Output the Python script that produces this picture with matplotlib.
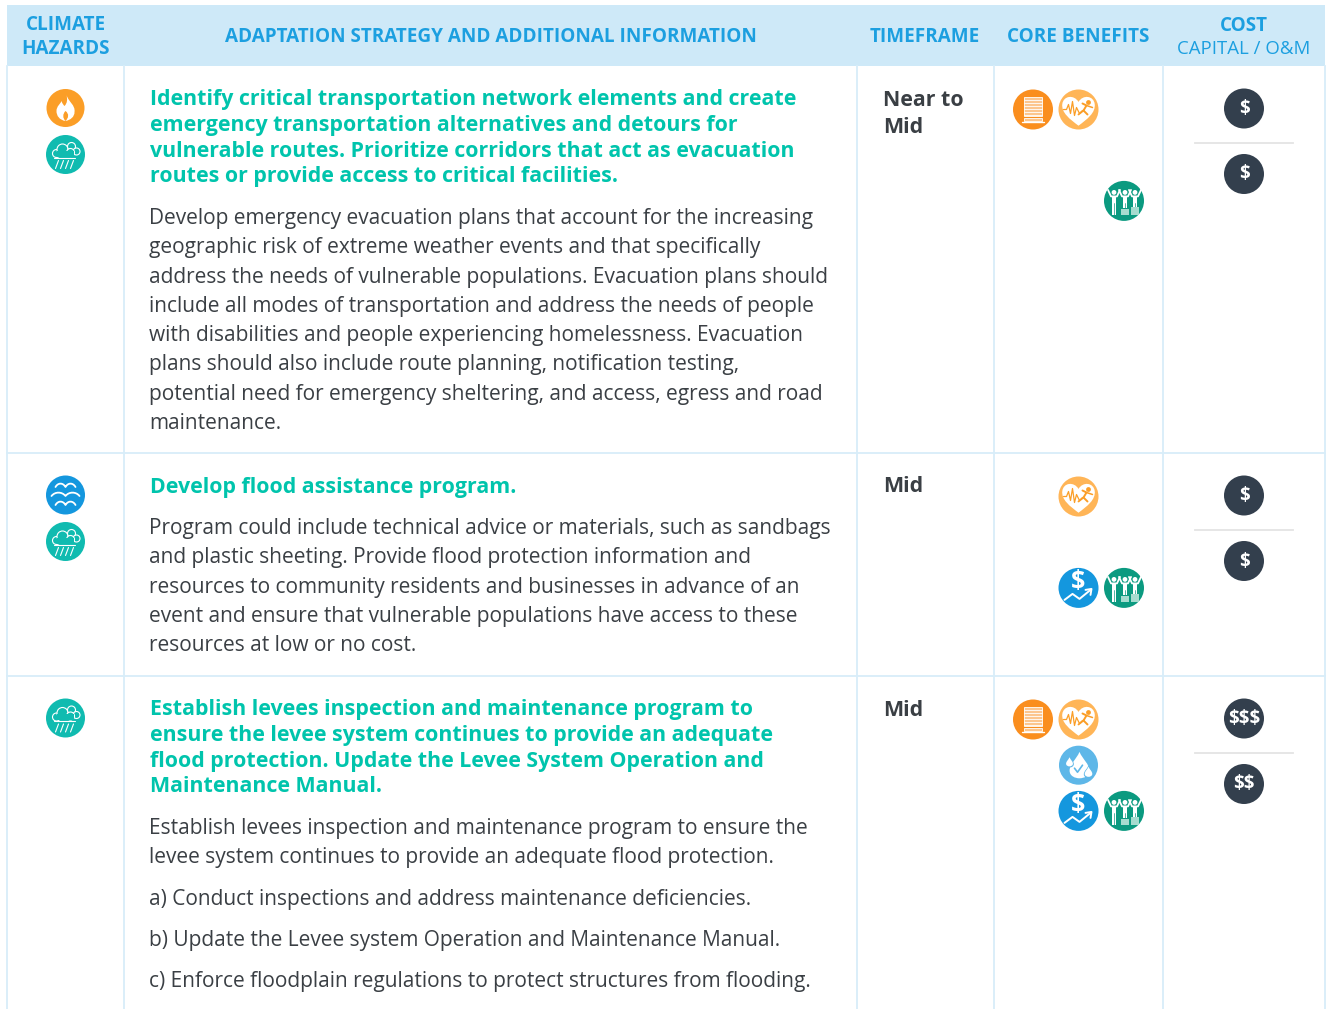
import matplotlib
matplotlib.use('Agg')
import matplotlib.pyplot as plt
from matplotlib.patches import Circle, Rectangle, PathPatch
from matplotlib.path import Path

plt.rcParams['font.family'] = ['Open Sans', 'DejaVu Sans']

# Table content
header_blue = '#1C9FE0'
teal = '#00C4AC'
line_blue = '#D8EDF9'
body_grey = '#3A3F44'

hazards = [['fire', 'rain'], ['flood', 'rain'], ['rain']]
timeframes = [['Near to', 'Mid'], ['Mid'], ['Mid']]
capital_cost = ['$', '$', '$$$']
om_cost = ['$', '$', '$$']
benefits = [
    [('building', 0, 0), ('health', 1, 0), ('people', 2, 2)],
    [('health', 1, 0), ('money', 1, 2), ('people', 2, 2)],
    [('building', 0, 0), ('health', 1, 0), ('water', 1, 1), ('money', 1, 2), ('people', 2, 2)],
]
titles = [
    ['Identify critical transportation network elements and create',
     'emergency transportation alternatives and detours for',
     'vulnerable routes. Prioritize corridors that act as evacuation',
     'routes or provide access to critical facilities.'],
    ['Develop flood assistance program.'],
    ['Establish levees inspection and maintenance program to',
     'ensure the levee system continues to provide an adequate',
     'flood protection. Update the Levee System Operation and',
     'Maintenance Manual.'],
]
# each row is a list of paragraphs
bodies = [
    [['Develop emergency evacuation plans that account for the increasing',
      'geographic risk of extreme weather events and that specifically',
      'address the needs of vulnerable populations. Evacuation plans should',
      'include all modes of transportation and address the needs of people',
      'with disabilities and people experiencing homelessness. Evacuation',
      'plans should also include route planning, notification testing,',
      'potential need for emergency sheltering, and access, egress and road',
      'maintenance.']],
    [['Program could include technical advice or materials, such as sandbags',
      'and plastic sheeting. Provide flood protection information and',
      'resources to community residents and businesses in advance of an',
      'event and ensure that vulnerable populations have access to these',
      'resources at low or no cost.']],
    [['Establish levees inspection and maintenance program to ensure the',
      'levee system continues to provide an adequate flood protection.'],
     ['a) Conduct inspections and address maintenance deficiencies.'],
     ['b) Update the Levee system Operation and Maintenance Manual.'],
     ['c) Enforce floodplain regulations to protect structures from flooding.']],
]

# Layout in pixels
W, H = 1327, 1009
col_lines = [7, 124, 857, 994, 1163, 1325]
row_tops = [66, 453, 676]

fig = plt.figure(figsize=(W / 100, H / 100), dpi=100)
ax = fig.add_axes([0, 0, 1, 1])
ax.set_xlim(0, W)
ax.set_ylim(H, 0)
ax.axis('off')


def disc(cx, cy, color, r=20):
    ax.add_patch(Circle((cx, cy), r, fc=color, ec='none', zorder=3))


def shape(cx, cy, verts, codes=None, fc='white', ec='none', lw=0, zorder=4):
    pts = [(cx + x, cy + y) for x, y in verts]
    ax.add_patch(PathPatch(Path(pts, codes), fc=fc, ec=ec, lw=lw, zorder=zorder,
                           capstyle='round', joinstyle='round'))


def stroke(cx, cy, pts, lw=1.1, color='white', zorder=4):
    ax.plot([cx + p[0] for p in pts], [cy + p[1] for p in pts], color=color, lw=lw,
            solid_capstyle='round', solid_joinstyle='round', zorder=zorder)


def fire_icon(cx, cy):
    disc(cx, cy, '#FB9E27', 19)
    C = Path.CURVE4
    shape(cx, cy, [(1, -13), (3, -6), (10, -3), (9, 4), (9, 9), (5, 12), (0, 13),
                   (-6, 12), (-9, 8), (-9, 3), (-9, -2), (-5, -4), (-4, -7), (-3, -4), (-2, -3),
                   (-1, -2), (2, -5), (2, -9), (1, -13), (1, -13)],
          [Path.MOVETO] + [C] * 18 + [Path.CLOSEPOLY])
    shape(cx, cy, [(0, 3), (4, 6), (3, 10), (0, 13), (-3, 10), (-3, 6), (0, 3), (0, 3)],
          [Path.MOVETO] + [C] * 6 + [Path.CLOSEPOLY], fc='#FB9E27')


def rain_icon(cx, cy):
    disc(cx, cy, '#10BBB0', 19.5)
    for dx, dy, r in [(-9, -1, 4), (-3, -5, 5.5), (6, -8, 4), (11, -3, 3.5), (5, -2, 4)]:
        ax.add_patch(Circle((cx + dx, cy + dy), r, fc='#10BBB0', ec='white', lw=0.8, zorder=4))
    ax.add_patch(Rectangle((cx - 9, cy - 4), 17, 6, fc='#10BBB0', ec='none', zorder=4.2))
    stroke(cx, cy, [(-12, 3), (9, 3)], lw=0.8, zorder=4.3)
    for dx in [-9, -4, 1, 6]:
        stroke(cx, cy, [(dx + 2, 6), (dx - 1, 14)], lw=0.8)


def flood_icon(cx, cy):
    disc(cx, cy, '#1497DE', 19.5)
    for dy, half in [(-9, 10), (0, 14), (9, 10)]:
        verts = [(-half, dy + 1)]
        codes = [Path.MOVETO]
        step = half / 2
        for i in range(2):
            x0 = -half + i * 2 * step
            verts += [(x0 + step * 0.5, dy - 3.5), (x0 + step * 1.5, dy - 3.5), (x0 + 2 * step, dy + 1)]
            codes += [Path.CURVE4] * 3
        shape(cx, cy, verts, codes, fc='none', ec='white', lw=1.3)


def building_icon(cx, cy):
    disc(cx, cy, '#FA8E1E', 20)
    ax.add_patch(Rectangle((cx - 9, cy - 13), 18, 19, fc='#FCC68F', ec='white', lw=0.6, zorder=4))
    for dy in range(-10, 6, 3):
        stroke(cx, cy, [(-9, dy), (9, dy)], lw=0.6)
    ax.add_patch(Rectangle((cx - 9, cy + 8), 18, 3.5, fc='#FCC68F', ec='white', lw=0.6, zorder=4))
    stroke(cx, cy, [(-11, 12.5), (11, 12.5)], lw=1.0)


def heart_path(cx, cy, fc, scale=1.0):
    C = Path.CURVE4
    v = [(0, 15), (-8, 9), (-16, 3), (-15, -5), (-14, -13), (-4, -14), (0, -7),
         (4, -14), (14, -13), (15, -5), (16, 3), (8, 9), (0, 15), (0, 15)]
    v = [(x * scale, y * scale) for x, y in v]
    shape(cx, cy, v, [Path.MOVETO] + [C] * 12 + [Path.CLOSEPOLY], fc=fc)


def health_icon(cx, cy):
    disc(cx, cy, '#FFB557', 20)
    heart_path(cx, cy, 'white', scale=1.08)
    stroke(cx, cy, [(-15, 0), (-12, 0), (-10, -5), (-8, 4), (-6, -8), (-4, 6), (-2, -2),
                    (1, 4), (4, 1)], lw=0.9, color='#FB9E27', zorder=5)
    ax.add_patch(Circle((cx + 10, cy - 7), 2.4, fc='#FB9E27', ec='none', zorder=5))
    stroke(cx, cy, [(4, -6), (8, -4), (5, 1), (9, 5)], lw=1.4, color='#FB9E27', zorder=5)
    stroke(cx, cy, [(8, -4), (14, -2)], lw=1.1, color='#FB9E27', zorder=5)
    stroke(cx, cy, [(5, 1), (0, 5)], lw=1.3, color='#FB9E27', zorder=5)


def drop(cx, cy, s, fc, zorder=4):
    C = Path.CURVE4
    v = [(0, -1.3), (0.3, -0.6), (0.9, -0.2), (0.9, 0.4), (0.9, 0.9), (0.4, 1.1), (0, 1.1),
         (-0.4, 1.1), (-0.9, 0.9), (-0.9, 0.4), (-0.9, -0.2), (-0.3, -0.6), (0, -1.3), (0, -1.3)]
    shape(cx, cy, [(x * s, y * s) for x, y in v], [Path.MOVETO] + [C] * 12 + [Path.CLOSEPOLY],
          fc=fc, zorder=zorder)


def water_icon(cx, cy):
    disc(cx, cy, '#5EB7E8', 19.5)
    drop(cx + 1, cy + 1, 11, 'white')
    drop(cx - 9, cy - 3, 4.8, '#5EB7E8', zorder=4.5)
    drop(cx - 9, cy - 3, 3.8, 'white', zorder=4.6)
    drop(cx + 10, cy + 7, 5.2, '#5EB7E8', zorder=4.5)
    drop(cx + 10, cy + 7, 4.2, 'white', zorder=4.6)
    stroke(cx, cy, [(-4, 3), (-1, 7), (4, 0)], lw=1.2, color='#5EB7E8', zorder=5)


def money_icon(cx, cy):
    disc(cx, cy, '#1497DE', 20)
    ax.text(cx, cy - 6, '$', color='white', fontsize=18, fontweight='bold', ha='center', va='center',
            parse_math=False, zorder=4)
    stroke(cx, cy, [(-14, 12), (-6, 6), (1, 11), (12, 2)], lw=1.4)
    stroke(cx, cy, [(7, 2), (13, 1), (12, 7)], lw=1.4)


def people_icon(cx, cy):
    disc(cx, cy, '#0B9A80', 20)
    for dx, foot in [(-10, 14), (1, 7), (11, 6)]:
        ax.add_patch(Circle((cx + dx, cy - 8.5), 2.4, fc='white', ec='none', zorder=4))
        ax.add_patch(Rectangle((cx + dx - 2.2, cy - 5), 4.4, foot + 5, fc='white', ec='none', zorder=4))
        stroke(cx, cy, [(dx - 6, -11), (dx - 3, -4.5), (dx + 3, -4.5), (dx + 6, -11)], lw=1.3)
        stroke(cx, cy, [(dx, 2), (dx, foot)], lw=0.5, color='#0B9A80', zorder=4.5)
    ax.add_patch(Rectangle((cx - 3, cy + 8), 8, 6, fc='#A6DCCF', ec='none', zorder=5))
    ax.add_patch(Rectangle((cx + 7, cy + 6), 8, 8, fc='#A6DCCF', ec='none', zorder=5))


icon_funcs = {'fire': fire_icon, 'rain': rain_icon, 'flood': flood_icon, 'building': building_icon,
              'health': health_icon, 'water': water_icon, 'money': money_icon, 'people': people_icon}

# Header band and grid
ax.add_patch(Rectangle((7, 5), 1318, 61, fc='#CEE9F8', ec='none', zorder=1))
for x in col_lines:
    ax.plot([x, x], [66, H], color=line_blue, lw=1.3, zorder=1)
for y in row_tops[1:]:
    ax.plot([7, 1325], [y, y], color=line_blue, lw=1.3, zorder=1)

hdr = dict(color=header_blue, fontsize=13.6, fontweight='bold', ha='center', va='baseline')
ax.text(65.5, 30.5, 'CLIMATE', **hdr)
ax.text(65.5, 54, 'HAZARDS', **hdr)
ax.text(490.5, 42, 'ADAPTATION STRATEGY AND ADDITIONAL INFORMATION', **hdr)
ax.text(925, 42, 'TIMEFRAME', **hdr)
ax.text(1078.5, 42, 'CORE BENEFITS', **hdr)
ax.text(1244, 31, 'COST', **hdr)
ax.text(1244, 54, 'CAPITAL / O&M', color=header_blue, fontsize=13.4, ha='center', va='baseline')

# Rows
for i, top in enumerate(row_tops):
    for k, name in enumerate(hazards[i]):
        icon_funcs[name](65.5, top + 42 + k * 46.5)

    y = top + 39.5
    for line in titles[i]:
        ax.text(149.5, y, line, color=teal, fontsize=15.4, fontweight='bold', va='baseline', ha='left')
        y += 25.6
    y += 16
    for para in bodies[i]:
        for line in para:
            ax.text(149, y, line, color=body_grey, fontsize=15.05, va='baseline', ha='left')
            y += 29.3
        y += 12

    for k, line in enumerate(timeframes[i]):
        ax.text(883, top + 39.5 + k * 27.5, line, color='#3A3F44', fontsize=15.4, fontweight='bold',
                va='baseline', ha='left')

    for name, col, slot in benefits[i]:
        icon_funcs[name](1033 + col * 45.5, top + 43.5 + slot * 45.7)

    disc(1244, top + 42.5, '#333F4D')
    disc(1244, top + 108, '#333F4D')
    ax.plot([1195, 1293], [top + 77, top + 77], color='#E4E4E4', lw=1.3, zorder=2)
    for yy, label in [(top + 42.5, capital_cost[i]), (top + 108, om_cost[i])]:
        ax.text(1244, yy + 0.5, label, color='white', fontsize=13.5, fontweight='bold', ha='center',
                va='center', parse_math=False, zorder=4)

fig.savefig('out.png', dpi=100)
